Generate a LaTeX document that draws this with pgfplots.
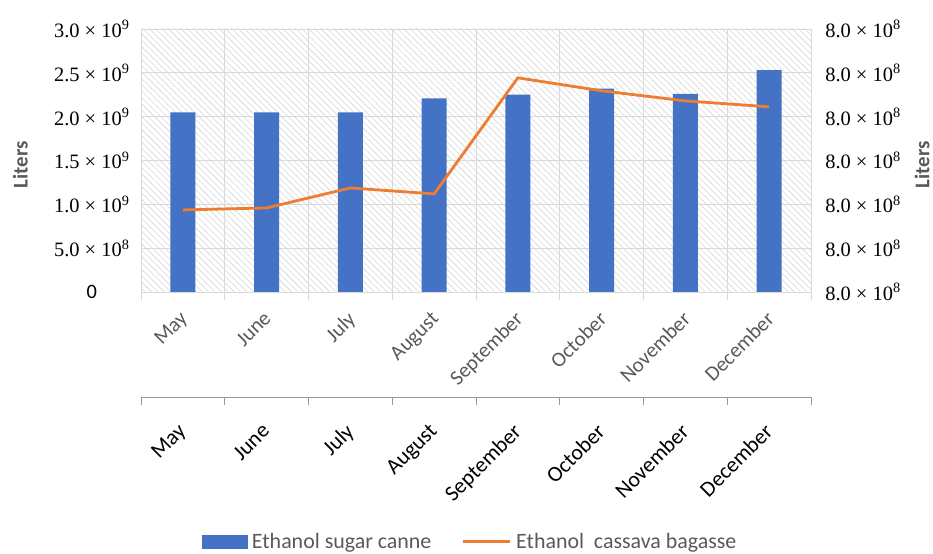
\documentclass[border=0pt]{standalone}
\usepackage{pgfplots}
\pgfplotsset{compat=1.18}
\usepackage{fontspec}
\setmainfont{Carlito}
\newfontfamily\tnr{Liberation Serif}
\usetikzlibrary{patterns.meta}
\definecolor{barblue}{HTML}{4472C4}
\definecolor{lineorange}{HTML}{ED7D31}
\definecolor{gridgray}{HTML}{D9D9D9}
\definecolor{txtgray}{HTML}{595959}
\newcommand{\sci}[2]{{\tnr #1 × 10\textsuperscript{#2}}}
\begin{document}
\begin{tikzpicture}
\useasboundingbox (0bp,0bp) rectangle (933bp,554bp);
% main axis (left, bars)
\begin{axis}[
  at={(141bp,262bp)}, anchor=south west,
  width=670bp, height=263bp, scale only axis,
  xmin=-0.5, xmax=7.5, ymin=0, ymax=3e9,
  scaled y ticks=false,
  axis background/.style={pattern={Lines[angle=-45,distance=4.5bp,line width=0.6bp]}, pattern color=black!16},
  axis line style={gridgray},
  xtick={0,...,7},
  xticklabels={May,June,July,August,September,October,November,December},
  major x tick style={draw=none},
  minor xtick={-0.5,0.5,...,7.5},
  minor x tick style={draw=gridgray, line width=0.8bp},
  minor tick length=8bp,
  tick align=outside,
  xtick pos=left,
  xminorgrids, minor grid style={gridgray, line width=0.8bp},
  ytick={0,0.5e9,1e9,1.5e9,2e9,2.5e9,3e9},
  yticklabels={0,\sci{5.0}{8},\sci{1.0}{9},\sci{1.5}{9},\sci{2.0}{9},\sci{2.5}{9},\sci{3.0}{9}},
  ytick pos=left,
  y tick style={draw=none},
  ymajorgrids, major grid style={gridgray, line width=0.8bp},
  yticklabel style={font=\fontsize{20.5}{20.5}\selectfont, text=black, anchor=center, xshift=-45bp},
  xticklabel style={font=\fontsize{21}{21}\selectfont, text=txtgray, xshift=-4bp, yshift=-9bp, rotate=45, anchor=north east},
  ylabel={Liters},
  ylabel style={font=\bfseries\fontsize{21}{21}\selectfont, text=txtgray, at={(axis description cs:-0.18,0.483)}, anchor=center},
]
\addplot[ybar, bar width=25bp, fill=barblue, draw=none] coordinates {
 (0,2.05e9) (1,2.05e9) (2,2.05e9) (3,2.21e9) (4,2.25e9) (5,2.32e9) (6,2.26e9) (7,2.53e9)};
\end{axis}
% right axis (line)
\begin{axis}[
  at={(141bp,262bp)}, anchor=south west,
  width=670bp, height=263bp, scale only axis,
  xmin=-0.5, xmax=7.5, ymin=0, ymax=3e9,
  scaled y ticks=false,
  axis x line=none,
  axis y line*=right,
  y axis line style={draw=none},
  ytick={0,0.5e9,1e9,1.5e9,2e9,2.5e9,3e9},
  yticklabels={\sci{8.0}{8},\sci{8.0}{8},\sci{8.0}{8},\sci{8.0}{8},\sci{8.0}{8},\sci{8.0}{8},\sci{8.0}{8}},
  y tick style={draw=none},
  yticklabel style={font=\fontsize{20.5}{20.5}\selectfont, text=black, anchor=center, xshift=52bp},
  ylabel={Liters},
  ylabel style={font=\bfseries\fontsize{21}{21}\selectfont, text=txtgray, at={(axis description cs:1.166,0.483)}, anchor=center, rotate=0},
  legend style={at={(axis description cs:0.491,-0.950)}, anchor=center, draw=none, fill=none,
    font=\fontsize{22}{22}\selectfont, text=txtgray, legend columns=2,
    /tikz/every odd column/.append style={column sep=3bp},
    /tikz/every even column/.append style={column sep=28bp}},
]
\addlegendimage{legend image code/.code={\fill[barblue] (0bp,-6.5bp) rectangle (45bp,6.5bp);}}
\addlegendentry{Ethanol sugar canne}
\addplot[lineorange, line width=2.8bp, legend image code/.code={\draw[lineorange, line width=2.8bp] (0bp,0bp) -- (47bp,0bp);}] coordinates {
 (0,0.936e9) (1,0.959e9) (2,1.187e9) (3,1.119e9) (4,2.443e9) (5,2.295e9) (6,2.18e9) (7,2.112e9)};
\addlegendentry{Ethanol\ \ cassava bagasse}
\end{axis}
% lower duplicate category axis
\begin{axis}[
  at={(141bp,157bp)}, anchor=south west,
  width=670bp, height=1bp, scale only axis,
  xmin=-0.5, xmax=7.5, ymin=0, ymax=1,
  hide y axis,
  axis x line*=bottom,
  x axis line style={-, draw=black!40, line width=0.9bp},
  xtick={0,...,7},
  xticklabels={May,June,July,August,September,October,November,December},
  major x tick style={draw=none},
  minor xtick={-0.5,0.5,...,7.5},
  minor x tick style={draw=black!40, line width=0.9bp},
  minor tick length=8bp,
  tick align=outside,
  xticklabel style={font=\fontsize{22}{22}\selectfont, text=black, xshift=-6bp, yshift=-16bp, rotate=45, anchor=north east},
]
\addplot[draw=none] coordinates {(0,0.5)};
\end{axis}
\end{tikzpicture}
\end{document}
